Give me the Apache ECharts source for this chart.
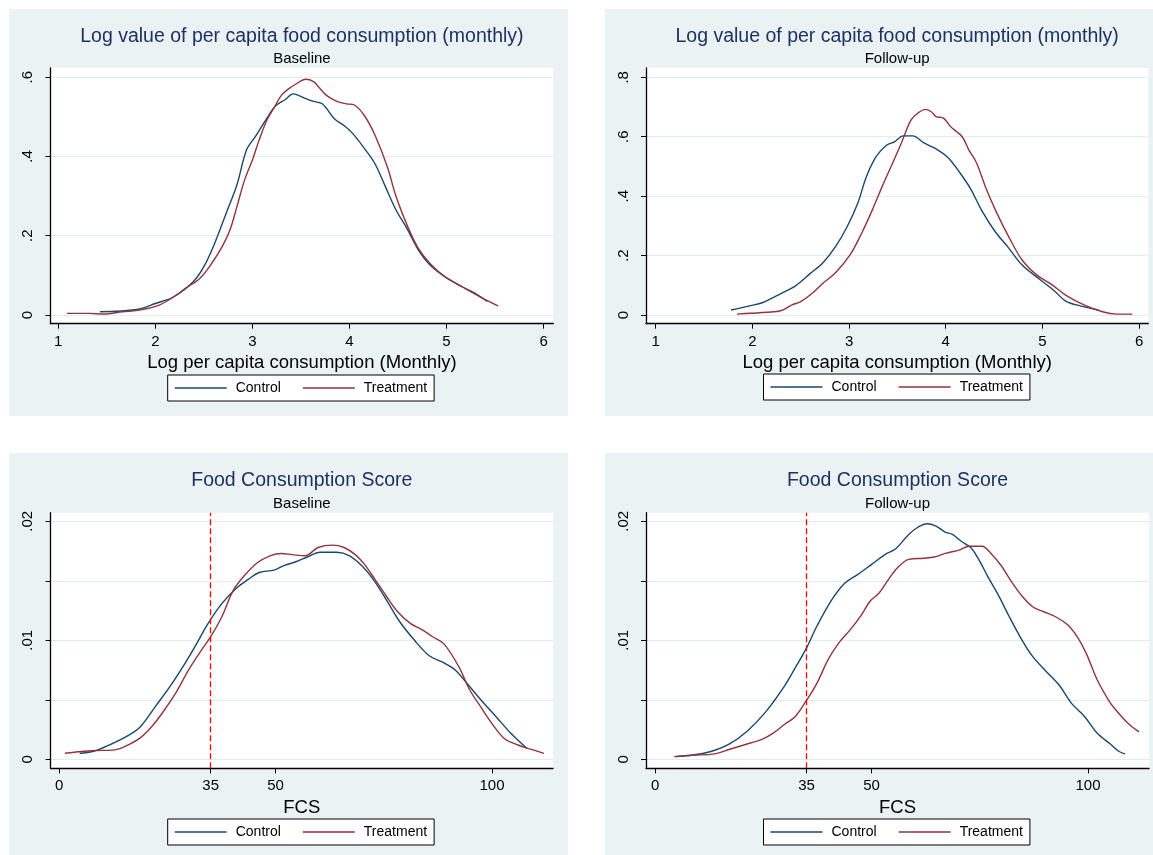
<!DOCTYPE html>
<html>
<head>
<meta charset="utf-8">
<script src="https://cdn.jsdelivr.net/npm/echarts@6/dist/echarts.min.js"></script>
<style>
html,body{margin:0;padding:0;background:#fff;}
.panel{position:absolute;background:#EAF2F3;}
#chart{position:absolute;left:0;top:0;width:1153px;height:855px;}
</style>
</head>
<body>
<div class="panel" style="left:9px;top:9px;width:559px;height:407px"></div>
<div class="panel" style="left:605px;top:9px;width:548px;height:407px"></div>
<div class="panel" style="left:9px;top:453px;width:559px;height:402px"></div>
<div class="panel" style="left:605px;top:453px;width:548px;height:402px"></div>
<div id="chart"></div>
<script>
// ---- Data ----
const seriesNames = ['Control', 'Treatment'];
const titles = ['Log value of per capita food consumption (monthly)', 'Log value of per capita food consumption (monthly)', 'Food Consumption Score', 'Food Consumption Score'];
const subtitles = ['Baseline', 'Follow-up', 'Baseline', 'Follow-up'];
const xNames = ['Log per capita consumption (Monthly)', 'Log per capita consumption (Monthly)', 'FCS', 'FCS'];

const logXTicks = [1, 2, 3, 4, 5, 6];
const fcsXTicks = [0, 35, 50, 100];
const tlYTicks = [0, 0.2, 0.4, 0.6];
const trYTicks = [0, 0.2, 0.4, 0.6, 0.8];
const fcsYTicks = [0, 0.005, 0.01, 0.015, 0.02];
const fcsYLabels = [0, 0.01, 0.02];
const fcsCutoff = 35;

// Top-left: log consumption, baseline
const tlControlX = [1.43,1.81,2.00,2.19,2.39,2.50,2.61,2.73,2.84,2.94,3.03,3.15,3.24,3.34,3.42,3.45,3.55,3.63,3.72,3.85,3.95,4.03,4.14,4.26,4.37,4.48,4.60,4.71,4.83,4.98,5.17,5.29,5.42];
const tlControlY = [0.008,0.014,0.029,0.046,0.084,0.122,0.180,0.257,0.328,0.417,0.450,0.497,0.528,0.544,0.558,0.557,0.546,0.539,0.533,0.494,0.477,0.459,0.425,0.383,0.324,0.265,0.215,0.164,0.126,0.097,0.070,0.055,0.034];
const tlTreatX = [1.09,1.32,1.47,1.66,1.85,2.04,2.19,2.31,2.46,2.58,2.69,2.77,2.84,2.92,3.00,3.07,3.15,3.23,3.30,3.38,3.45,3.55,3.63,3.68,3.76,3.87,3.97,4.05,4.16,4.27,4.39,4.48,4.60,4.71,4.83,4.98,5.17,5.36,5.53];
const tlTreatY = [0.004,0.004,0.0025,0.008,0.013,0.025,0.046,0.067,0.093,0.130,0.173,0.215,0.273,0.341,0.391,0.442,0.492,0.526,0.555,0.572,0.583,0.595,0.589,0.576,0.555,0.539,0.533,0.530,0.501,0.450,0.374,0.299,0.223,0.168,0.130,0.097,0.070,0.044,0.023];

// Top-right: log consumption, follow-up
const trControlX = [1.78,1.96,2.11,2.30,2.45,2.60,2.73,2.86,2.98,3.09,3.18,3.28,3.39,3.47,3.56,3.66,3.77,3.90,4.02,4.15,4.26,4.37,4.51,4.64,4.79,4.98,5.13,5.24,5.40,5.58];
const trControlY = [0.017,0.030,0.042,0.073,0.099,0.140,0.176,0.230,0.297,0.376,0.466,0.533,0.572,0.583,0.603,0.603,0.580,0.559,0.531,0.477,0.423,0.353,0.281,0.230,0.168,0.118,0.079,0.047,0.030,0.017];
const trTreatX = [1.84,1.99,2.15,2.30,2.41,2.50,2.62,2.73,2.86,3.01,3.13,3.24,3.35,3.45,3.54,3.64,3.71,3.79,3.85,3.90,3.98,4.05,4.17,4.24,4.32,4.41,4.53,4.66,4.79,4.94,5.09,5.24,5.43,5.62,5.77,5.93];
const trTreatY = [0.003,0.006,0.009,0.015,0.034,0.045,0.073,0.107,0.142,0.202,0.275,0.353,0.438,0.511,0.578,0.656,0.679,0.692,0.684,0.668,0.662,0.634,0.600,0.555,0.511,0.432,0.342,0.258,0.185,0.135,0.104,0.067,0.034,0.011,0.003,0.003];

// Bottom-left: FCS, baseline
const blControlX = [4.7,7.7,11.1,16.2,18.8,22.2,25.6,29.1,31.6,34.2,37.6,41.0,43.6,46.2,49.6,52.1,54.7,57.3,60.3,64.1,67.1,70.1,72.6,75.6,78.6,82.1,85.5,88.9,91.5,94.4,97.4,100.9,104.3,108.1];
const blControlY = [0.0005,0.00065,0.00112,0.00205,0.00275,0.00443,0.00612,0.00808,0.00962,0.0113,0.0131,0.0144,0.0151,0.0157,0.0159,0.0163,0.0166,0.0170,0.0174,0.0174,0.0171,0.0162,0.0151,0.0134,0.0116,0.0100,0.0087,0.0081,0.0075,0.0063,0.0050,0.0036,0.0022,0.0009];
const blTreatX = [1.3,5.1,8.5,12.8,16.2,18.8,21.4,23.9,26.9,29.9,32.9,35.0,37.6,40.2,42.7,45.7,48.7,51.3,53.8,56.8,59.8,63.2,65.8,68.4,70.5,73.0,75.6,78.2,81.2,83.8,86.3,88.9,92.3,94.9,97.4,100.0,103.0,106.0,108.5,112.0];
const blTreatY = [0.0005,0.00065,0.00073,0.00079,0.00126,0.00182,0.00275,0.00393,0.00555,0.00752,0.0092,0.0103,0.0120,0.0142,0.0154,0.0165,0.0171,0.0173,0.0172,0.0171,0.0178,0.0180,0.0178,0.0172,0.0164,0.0151,0.0137,0.0124,0.0114,0.0109,0.0103,0.0097,0.0078,0.0058,0.0044,0.0030,0.0017,0.0012,0.0009,0.0005];

// Bottom-right: FCS, follow-up
const brControlX = [4.5,8.7,12.9,17.2,21.4,25.6,29.8,32.4,34.9,37.4,40.8,43.8,46.7,50.1,53.1,55.6,58.6,60.7,62.8,64.9,67.0,68.7,70.8,72.9,74.6,76.8,79.3,81.8,84.8,87.3,90.3,93.2,96.2,99.2,102.1,105.1,107.2,108.6];
const brControlY = [0.00022,0.00036,0.00065,0.00129,0.0024,0.0040,0.0061,0.0077,0.0093,0.0112,0.0134,0.0148,0.0155,0.0164,0.0172,0.0177,0.0189,0.0195,0.0198,0.0196,0.0191,0.0189,0.0183,0.0178,0.0169,0.0154,0.0138,0.0120,0.0100,0.0086,0.0074,0.0063,0.0047,0.0036,0.0022,0.0013,0.00065,0.00045];
const brTreatX = [4.5,8.7,13.8,17.2,20.5,24.8,27.3,29.8,32.4,34.9,37.4,40.0,42.5,45.1,47.6,49.7,51.8,53.9,56.0,58.6,62.0,64.5,67.0,70.4,72.5,75.5,77.6,80.1,82.2,84.8,87.3,89.8,92.4,95.3,97.5,99.6,102.1,104.7,106.3,109.3,111.8];
const brTreatY = [0.00022,0.00034,0.00045,0.00084,0.0012,0.0017,0.0022,0.0029,0.0036,0.0049,0.0064,0.0084,0.0098,0.0109,0.0121,0.0133,0.0140,0.0151,0.0161,0.0168,0.0169,0.0170,0.0173,0.0176,0.0179,0.0179,0.0173,0.0162,0.0150,0.0137,0.0128,0.0124,0.0120,0.0113,0.0103,0.0089,0.0067,0.0050,0.0042,0.0030,0.0023];

// ---- Layout / style ----
const FONT = "'Liberation Sans', Arial, Helvetica, sans-serif";
const BLUE = '#1A476F', RED = '#90353B', TITLE = '#1E3162';
const grids = [
  {left: 50.5, top: 68, width: 502.8, height: 255.7},
  {left: 646, top: 68, width: 502.3, height: 255.7},
  {left: 50.6, top: 512.7, width: 502.4, height: 255.6},
  {left: 646, top: 512.7, width: 503, height: 255.6}
];
const xRanges = [[0.92, 6.10], [0.90, 6.095], [-2.0, 114.1], [-2.1, 114.1]];
const yRanges = [[-0.022, 0.6234], [-0.0293, 0.8313], [-0.00076, 0.020724], [-0.00076, 0.020724]];
const xTickSets = [logXTicks, logXTicks, fcsXTicks, fcsXTicks];
const yTickSets = [tlYTicks, trYTicks, fcsYTicks, fcsYTicks];
const yLabelSets = [tlYTicks, trYTicks, fcsYLabels, fcsYLabels];
const titleTops = [27, 27, 471, 471];
const subTops = [51.5, 51.5, 496, 496];
const legendPos = [[167.7, 375], [763.5, 374], [167.7, 819], [763.5, 819]];
const panelData = [
  [tlControlX, tlControlY, tlTreatX, tlTreatY],
  [trControlX, trControlY, trTreatX, trTreatY],
  [blControlX, blControlY, blTreatX, blTreatY],
  [brControlX, brControlY, brTreatX, brTreatY]
];

function fmtY(v) {
  const s = String(+v.toFixed(4));
  return s.replace(/^0\./, '.');
}
function zip(xs, ys) { return xs.map((x, i) => [x, ys[i]]); }

const option = {
  animation: false,
  textStyle: {fontFamily: FONT},
  title: [], grid: [], xAxis: [], yAxis: [], legend: [], series: []
};

for (let i = 0; i < 4; i++) {
  const cx = grids[i].left + grids[i].width / 2;
  option.title.push({
    text: titles[i], left: cx, top: titleTops[i], textAlign: 'center', padding: 0,
    textStyle: {fontSize: 19.5, fontWeight: 'normal', color: TITLE, fontFamily: FONT, lineHeight: 20}
  });
  option.title.push({
    text: subtitles[i], left: cx, top: subTops[i], textAlign: 'center', padding: 0,
    textStyle: {fontSize: 15, fontWeight: 'normal', color: '#000', fontFamily: FONT, lineHeight: 15}
  });
  option.grid.push(Object.assign({show: true, backgroundColor: '#fff', borderWidth: 0, containLabel: false}, grids[i]));
  option.xAxis.push({
    type: 'value', gridIndex: i, min: xRanges[i][0], max: xRanges[i][1],
    axisLine: {show: true, onZero: false, lineStyle: {color: '#000', width: 1.3}},
    axisTick: {show: true, length: 5, customValues: xTickSets[i], lineStyle: {color: '#000', width: 1}},
    axisLabel: {customValues: xTickSets[i], fontSize: 15, color: '#000', margin: 10.5, fontFamily: FONT},
    splitLine: {show: false},
    name: xNames[i], nameLocation: 'middle', nameGap: 30,
    nameTextStyle: {fontSize: 18.5, color: '#000', fontFamily: FONT}
  });
  option.yAxis.push({
    type: 'value', gridIndex: i, min: yRanges[i][0], max: yRanges[i][1],
    axisLine: {show: true, onZero: false, lineStyle: {color: '#000', width: 1.3}},
    axisTick: {show: true, length: 5, customValues: yTickSets[i], lineStyle: {color: '#000', width: 1}},
    axisLabel: {customValues: yLabelSets[i], rotate: 90, fontSize: 15, color: '#000', margin: 15, fontFamily: FONT, formatter: fmtY},
    splitLine: {show: true, lineStyle: {color: '#E2EBED', width: 1}}
  });
  option.legend.push({
    left: legendPos[i][0], top: legendPos[i][1], orient: 'horizontal',
    padding: [6, 7], itemGap: 22, itemWidth: 52, itemHeight: 1.5, icon: 'rect',
    backgroundColor: '#fff', borderColor: '#000', borderWidth: 1, borderRadius: 0,
    textStyle: {fontSize: 14, color: '#000', fontFamily: FONT, padding: [0, 0, 0, 4], lineHeight: 14},
    data: seriesNames
  });
  const d = panelData[i];
  const ctrl = {
    name: seriesNames[0], type: 'line', xAxisIndex: i, yAxisIndex: i,
    data: zip(d[0], d[1]), symbol: 'none', smooth: 0.35,
    lineStyle: {color: BLUE, width: 1.4}, itemStyle: {color: BLUE}, z: 3
  };
  const trt = {
    name: seriesNames[1], type: 'line', xAxisIndex: i, yAxisIndex: i,
    data: zip(d[2], d[3]), symbol: 'none', smooth: 0.35,
    lineStyle: {color: RED, width: 1.4}, itemStyle: {color: RED}, z: 3
  };
  if (i >= 2) {
    trt.markLine = {
      silent: true, symbol: 'none', label: {show: false},
      lineStyle: {color: '#FF0000', type: [6, 3], width: 1.3},
      data: [{xAxis: fcsCutoff}]
    };
  }
  option.series.push(ctrl, trt);
}

const chart = echarts.init(document.getElementById('chart'), null, {renderer: 'canvas'});
chart.setOption(option);
</script>
</body>
</html>
